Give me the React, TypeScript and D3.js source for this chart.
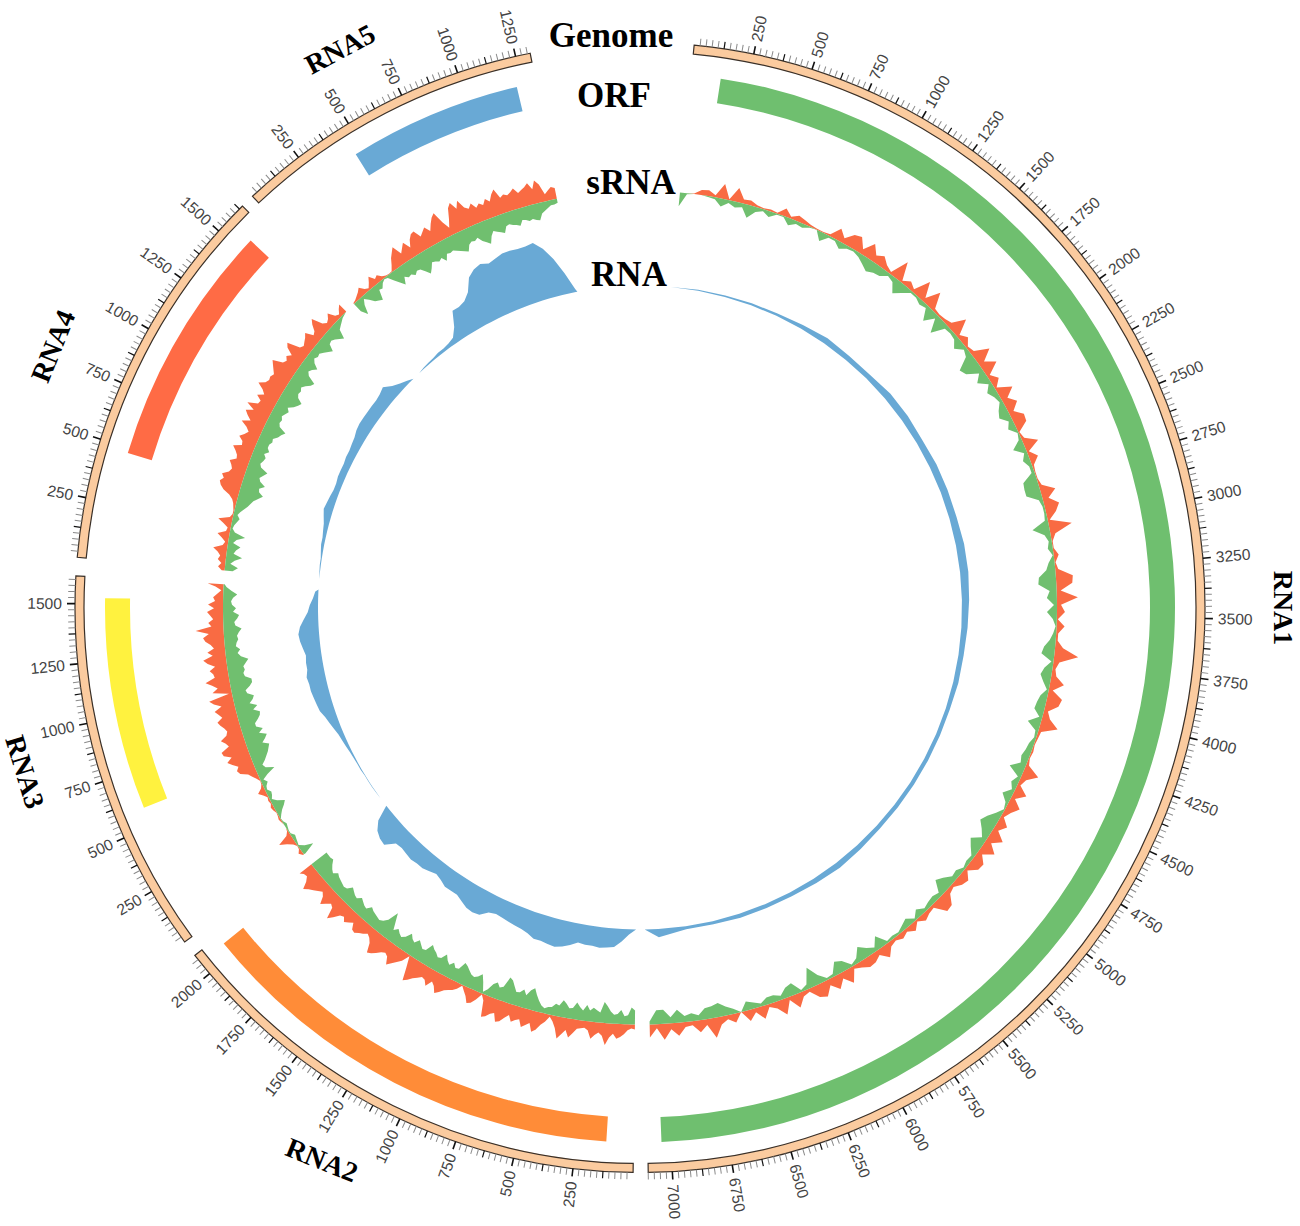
import { useEffect, useRef } from 'react';
import * as d3 from 'd3';

const segments = ['RNA1', 'RNA2', 'RNA3', 'RNA4', 'RNA5'];
const lengths = [7100, 2097, 1615, 1643, 1312];
const startDeg = [5.5, 180.7, 233.7, 275.1, 316.7];
const degPerBase = 0.02446;

// ORF start / end in bases, per segment
const orfStart = [130, 119, 585, 478, 458];
const orfEnd = [7040, 2060, 1525, 1562, 1226];
const orfColor = ['#6fbf6f', '#ff8c38', '#fff23f', '#ff6b45', '#69a9d5'];

// sRNA coverage, bases per value differs per segment
const srnaStep = [40, 20, 20, 20, 20];
const srnaPlus = [
  [0, 0, 0.5, 5, 6, 2, 15, 1, 14, 4, 5, 2, 1, 2, 1, 8, 2, 6, 4, 2, 1, 1, 2, 12, 5, 13, 15, 5, 16, 7, 11, 5, 2, 20, 2, 7, 3, 19, 4, 18, 3, 2, 3, 5, 18, 3, 8, 2, 4, 18, 6, 16, 3, 9, 2, 16, 6, 13, 5, 13, 12, 1, 3, 15, 2, 9, 2, 1, 1, 3, 15, 6, 15, 10, 2, 23, 5, 1, 1, 5, 1, 3, 17, 16, 4, 21, 4, 8, 1, 8, 2, 2, 8, 24, 6, 3, 5, 14, 4, 15, 13, 4, 8, 18, 3, 2, 1, 2, 1, 3, 16, 6, 3, 13, 4, 13, 7, 3, 11, 5, 15, 6, 15, 5, 12, 11, 3, 10, 8, 3, 5, 14, 15, 3, 4, 7, 2, 8, 3, 6, 3, 5, 13, 5, 9, 10, 6, 3, 15, 6, 14, 6, 15, 12, 3, 5, 14, 3, 16, 7, 3, 13, 4, 11, 0, 9, 4, 8, 20, 6, 12, 4, 5, 13, 6, 16, 4, 13],
  [5, 4, 6, 10, 13, 15, 10, 14, 22, 13, 10, 13, 17, 9, 7, 8, 9, 14, 19, 12, 17, 22, 12, 6, 2, 8, 12, 18, 21, 13, 16, 19, 12, 14, 17, 11, 15, 20, 22, 14, 16, 20, 22, 6, 1, 8, 13, 15, 9, 5, 1, 6, 9, 11, 13, 17, 20, 14, 11, 18, 13, 12, 15, 18, 22, 25, 12, 1, 9, 13, 17, 21, 14, 12, 14, 18, 21, 23, 14, 10, 8, 11, 13, 16, 15, 9, 12, 15, 11, 13, 19, 24, 13, 11, 15, 19, 12, 9, 12, 15, 18, 22, 15, 11, 12, 15, 10],
  [1, 4, 1, 0.5, 3, 8, 15, 4, 1, 0, 0, 1, 2, 1, 0.5, 2, 3, 1, 2, 1, 4, 8, 3, 1, 0.5, 3, 6, 9, 16, 18, 15, 20, 24, 18, 25, 26, 17, 19, 23, 16, 14, 16, 19, 21, 15, 18, 21, 13, 20, 24, 3, 19, 13, 18, 24, 14, 15, 18, 12, 19, 23, 13, 18, 11, 14, 19, 21, 15, 28, 12, 15, 10, 13, 16, 9, 15, 8, 10, 6, 2, 8, 16],
  [3, 7, 4, 8, 6, 9, 14, 5, 3, 7, 12, 4, 3, 8, 14, 3, 1, 1, 2, 3, 5, 9, 16, 20, 22, 19, 22, 16, 14, 16, 19, 13, 14, 17, 21, 13, 14, 19, 15, 12, 16, 23, 15, 20, 24, 17, 26, 16, 15, 21, 15, 19, 26, 20, 18, 19, 17, 20, 23, 26, 16, 14, 17, 13, 21, 24, 11, 9, 11, 13, 16, 8, 10, 16, 20, 9, 6, 8, 12, 5, 3, 7, 10],
  [1, 2, 4, 6, 9, 4, 2, 6, 11, 5, 7, 3, 1, 0.5, 1, 6, 12, 16, 20, 10, 14, 18, 10, 17, 21, 22, 14, 17, 20, 14, 20, 25, 28, 16, 8, 16, 26, 30, 22, 29, 20, 17, 21, 15, 18, 15, 20, 16, 22, 26, 16, 18, 16, 18, 21, 15, 17, 19, 22, 15, 23, 18, 7, 10, 13, 11],
];
const srnaMinus = [
  [14, 1, 0, 0, 1, 2, 8, 3, 6, 4, 13, 5, 2, 6, 1, 1, 7, 3, 4, 1, 0, 9, 2, 2, 7, 3, 2, 4, 8, 12, 9, 8, 3, 5, 14, 8, 2, 2, 5, 3, 14, 4, 17, 4, 3, 4, 10, 3, 6, 19, 16, 5, 12, 3, 9, 5, 3, 8, 11, 4, 8, 1, 3, 12, 3, 7, 3, 3, 14, 15, 15, 4, 2, 2, 3, 17, 6, 3, 5, 1, 6, 9, 17, 18, 7, 10, 3, 10, 4, 1, 3, 6, 11, 13, 2, 8, 11, 7, 2, 7, 9, 10, 3, 13, 3, 2, 5, 6, 8, 6, 15, 3, 7, 3, 10, 3, 1, 6, 12, 16, 10, 5, 14, 9, 3, 4, 2, 6, 5, 11, 15, 4, 6, 5, 3, 8, 2, 8, 5, 2, 3, 2, 13, 4, 8, 14, 5, 2, 10, 13, 3, 2, 9, 20, 5, 2, 12, 10, 4, 7, 7, 3, 6, 9, 0, 5, 9, 14, 12, 11, 5, 8, 6, 13, 6, 14, 14, 3],
  [14, 17, 9, 8, 14, 10, 9, 12, 17, 21, 10, 12, 14, 11, 16, 10, 13, 17, 11, 10, 14, 17, 11, 12, 8, 7, 5, 7, 11, 16, 22, 19, 13, 18, 14, 13, 18, 23, 25, 14, 12, 16, 13, 6, 2, 11, 18, 14, 12, 13, 16, 19, 21, 13, 12, 16, 12, 15, 20, 14, 13, 16, 18, 21, 13, 12, 15, 18, 13, 15, 19, 13, 10, 12, 15, 11, 19, 27, 16, 12, 10, 11, 12, 13, 15, 10, 11, 13, 15, 11, 12, 14, 16, 11, 10, 11, 12, 13, 15, 11, 13, 16, 20, 19, 19, 19, 18],
  [2, 14, 6, 1, 2, 3, 4, 1, 1, 2, 3, 1, 0.5, 3, 6, 10, 13, 6, 2, 4, 5, 2, 3, 6, 3, 9, 18, 10, 8, 12, 15, 18, 20, 22, 16, 20, 23, 16, 21, 15, 15, 19, 22, 23, 17, 22, 15, 19, 21, 15, 14, 19, 22, 22, 16, 15, 17, 16, 19, 22, 15, 12, 15, 11, 12, 14, 13, 15, 18, 12, 11, 14, 16, 10, 13, 9, 8, 10, 14, 8, 3, 1],
  [8, 13, 5, 9, 16, 7, 9, 13, 5, 8, 16, 5, 2, 3, 5, 7, 4, 6, 9, 12, 14, 16, 20, 24, 19, 18, 23, 17, 15, 18, 21, 13, 11, 13, 14, 11, 15, 12, 12, 14, 13, 17, 19, 22, 14, 12, 13, 11, 13, 15, 12, 17, 20, 22, 16, 14, 15, 13, 16, 20, 22, 13, 10, 12, 16, 10, 7, 9, 8, 11, 14, 17, 10, 9, 11, 14, 17, 8, 6, 4, 2, 1, 0],
  [10, 17, 8, 3, 7, 12, 14, 16, 6, 7, 3, 1, 2, 8, 13, 18, 11, 14, 13, 16, 13, 14, 18, 23, 19, 14, 15, 17, 15, 20, 14, 15, 14, 16, 18, 20, 22, 16, 14, 15, 13, 18, 21, 24, 17, 13, 15, 17, 19, 13, 12, 14, 15, 17, 12, 13, 15, 14, 16, 17, 11, 9, 7, 5, 5, 4],
];

// RNA coverage, step in bases differs per segment
const rnaStep = [200, 50, 50, 50, 50];
const rnaCover = [
  [0, 1, 1.5, 2, 2.5, 4, 6, 5, 5, 7, 7, 6, 7, 7, 7, 8, 8, 7, 6, 5, 5, 4, 4, 4, 4, 4, 4, 5, 6, 5, 4, 4, 4, 3, 3, 8, 0],
  [0, 5, 12, 18, 19, 20, 19, 19, 18, 22, 25, 27, 26, 25, 25, 22, 20, 19, 18, 17, 16, 18, 24, 25, 24, 21, 18, 18, 18, 15, 13, 15, 17, 17, 18, 17, 16, 17, 26, 25, 22, 15, 0],
  [0, 0.3, 0.5, 0.5, 0.5, 1, 1, 1.5, 2, 3, 4, 5, 7, 9, 11, 14, 15, 16, 17, 17, 18, 16, 16, 15, 17, 19, 20, 18, 14, 10, 8, 5, 3, 0],
  [0, 0.5, 1, 1, 2, 3, 3, 4, 5, 7, 9, 8, 7, 6, 6, 7, 7, 7, 8, 8, 9, 10, 12, 13, 13, 13, 13, 13, 14, 16, 10, 6, 3, 0],
  [0, 1, 1.5, 2, 3, 3, 4, 6, 14, 28, 28, 30, 36, 48, 53, 55, 52, 54, 56, 56, 55, 55, 56, 48, 36, 20, 3, 0],
];

const App = () => {
  const svgRef = useRef<SVGSVGElement | null>(null);

  useEffect(() => {
    if (!svgRef.current) return;
    const svg = d3.select(svgRef.current);
    svg.selectAll('*').remove();

    const width = 1300;
    const height = 1226;
    const root = svg
      .attr('width', width)
      .attr('height', height)
      .append('g')
      .attr('transform', 'translate(640,607.5)');

    const angle = segments.map((_, s) =>
      d3
        .scaleLinear()
        .domain([0, lengths[s]])
        .range([
          (startDeg[s] * Math.PI) / 180,
          ((startDeg[s] + lengths[s] * degPerBase) * Math.PI) / 180,
        ]),
    );

    const ringArc = d3.arc<{ a0: number; a1: number }>()
      .innerRadius(556)
      .outerRadius(565)
      .startAngle((d) => d.a0)
      .endAngle((d) => d.a1);
    const orfArc = d3.arc<{ a0: number; a1: number }>()
      .innerRadius(510)
      .outerRadius(535)
      .startAngle((d) => d.a0)
      .endAngle((d) => d.a1);

    const srnaBase = 417;
    const outer = d3.scaleLinear().domain([0, 30]).range([srnaBase, srnaBase + 30]);
    const inner = d3.scaleLinear().domain([0, 30]).range([srnaBase, srnaBase - 30]);
    const rnaBase = 322;
    const rnaRadius = d3.scaleLinear().domain([0, 60]).range([rnaBase, rnaBase + 62]);

    segments.forEach((_, s) => {
      const a = angle[s];
      const g = root.append('g');

      // genome ring
      g.append('path')
        .attr('d', ringArc({ a0: a(0), a1: a(lengths[s]) }))
        .attr('fill', '#fbcb9f')
        .attr('stroke', '#3a3028')
        .attr('stroke-width', 1.2);

      // ticks every 25, darker at 125, labels at 250
      d3.range(0, lengths[s] + 1, 25).forEach((b) => {
        if (b === 0) return;
        const deg = (a(b) * 180) / Math.PI;
        const major = b % 250 === 0;
        const mid = b % 125 === 0;
        g.append('line')
          .attr('x1', 0)
          .attr('x2', major ? 8 : 7)
          .attr('transform', `rotate(${deg - 90}) translate(565,0)`)
          .attr('stroke', major || mid ? '#111' : '#8a8a8a')
          .attr('stroke-width', major ? 1.6 : mid ? 1.2 : 1);
        if (major) {
          const flip = deg > 180;
          g.append('text')
            .attr(
              'transform',
              `rotate(${deg - 90}) translate(578,0)${flip ? ' rotate(180)' : ''}`,
            )
            .attr('text-anchor', flip ? 'end' : 'start')
            .attr('dominant-baseline', 'central')
            .attr('font-family', '"Liberation Sans", Arial, sans-serif')
            .attr('font-size', 15.6)
            .attr('fill', '#444')
            .text(b);
        }
      });

      // ORF
      g.append('path')
        .attr('d', orfArc({ a0: a(orfStart[s]), a1: a(orfEnd[s]) }))
        .attr('fill', orfColor[s]);

      // sRNA, plus strand outward, minus strand inward
      const srnaArea = (r: d3.ScaleLinear<number, number>) =>
        d3.areaRadial<number>()
          .angle((_, i) => a(Math.min(i * srnaStep[s], lengths[s])))
          .innerRadius(srnaBase)
          .outerRadius((d) => r(d));
      g.append('path').attr('d', srnaArea(outer)(srnaPlus[s])).attr('fill', '#f96b43');
      g.append('path').attr('d', srnaArea(inner)(srnaMinus[s])).attr('fill', '#70bf6f');

      // RNA
      const rnaArea = d3.areaRadial<number>()
        .angle((_, i) => a(Math.min(i * rnaStep[s], lengths[s])))
        .innerRadius(rnaBase)
        .outerRadius((d) => rnaRadius(d));
      g.append('path').attr('d', rnaArea(rnaCover[s])).attr('fill', '#69a9d5');
    });

    // track names
    const serif = '"Liberation Serif", "Times New Roman", serif';
    const trackNames: [string, number, number][] = [
      ['Genome', 611, 47],
      ['ORF', 614, 107],
      ['sRNA', 631, 194],
      ['RNA', 629, 286],
    ];
    svg.selectAll('text.track')
      .data(trackNames)
      .join('text')
      .attr('class', 'track')
      .attr('x', (d) => d[1])
      .attr('y', (d) => d[2])
      .attr('text-anchor', 'middle')
      .attr('font-family', serif)
      .attr('font-weight', 'bold')
      .attr('font-size', 35)
      .attr('fill', '#000')
      .text((d) => d[0]);

    // segment names
    const segmentNames: [string, number, number, number][] = [
      ['RNA1', 1283, 608, 90],
      ['RNA2', 322, 1160, 22],
      ['RNA3', 25, 772, 73],
      ['RNA4', 53, 346, -68],
      ['RNA5', 340, 49, -28],
    ];
    svg.selectAll('text.segment')
      .data(segmentNames)
      .join('text')
      .attr('class', 'segment')
      .attr('transform', (d) => `translate(${d[1]},${d[2]}) rotate(${d[3]})`)
      .attr('text-anchor', 'middle')
      .attr('dominant-baseline', 'central')
      .attr('font-family', serif)
      .attr('font-weight', 'bold')
      .attr('font-size', 28)
      .attr('fill', '#000')
      .text((d) => d[0]);
  }, []);

  return <svg ref={svgRef} style={{ position: 'absolute', left: 0, top: 0 }}></svg>;
};

export default App;
